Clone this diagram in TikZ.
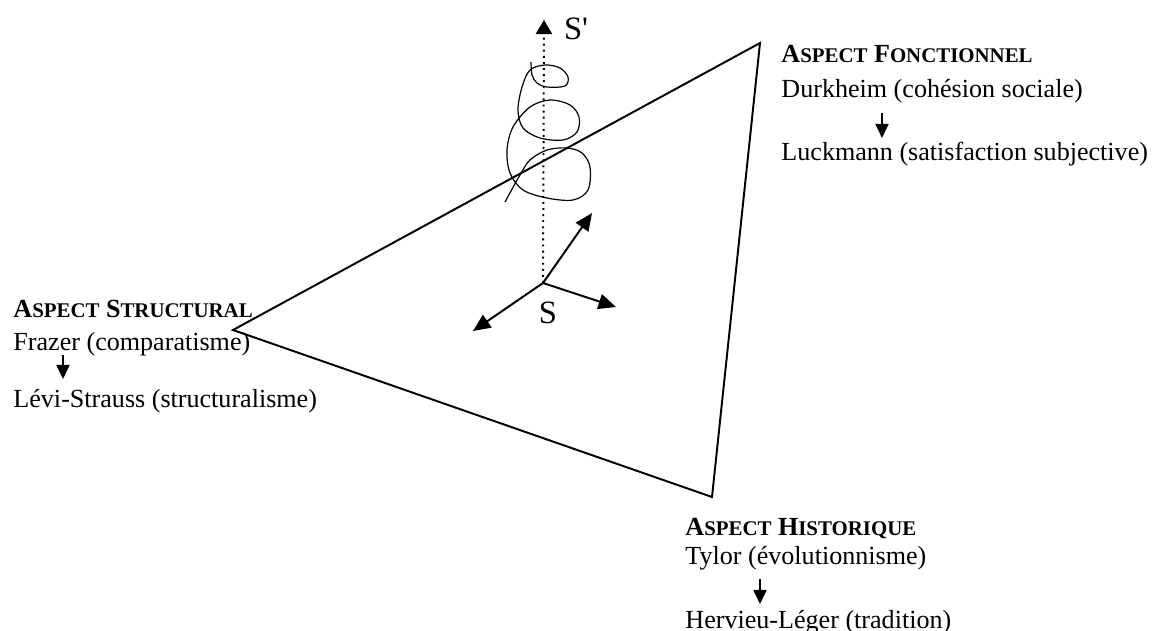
\documentclass[tikz,border=0pt]{standalone}
\usepackage{fontspec}
\setmainfont{Liberation Serif}
\usetikzlibrary{arrows.meta}
\newcommand\petitcap[1]{{\fontsize{9.6pt}{10pt}\selectfont #1}}
\tikzset{
  txt/.style={anchor=base west, inner sep=0pt, font=\fontsize{12pt}{14pt}\selectfont},
  axlabel/.style={inner sep=0pt, font=\fontsize{15pt}{18pt}\selectfont},
  bord/.style={line width=0.9pt, line join=miter},
  axe/.style={line width=0.9pt, -{Triangle[length=8pt, width=7pt]}},
  axepointille/.style={line width=0.9pt, dash pattern=on 0.9pt off 1.9pt, -{Triangle[length=6.5pt, width=7.5pt]}},
  fleche/.style={line width=0.9pt, -{Triangle[length=6.5pt, width=6pt]}},
  spirale/.style={line width=0.55pt}
}

\begin{document}
\begin{tikzpicture}[x=0.46pt, y=-0.46pt]
  \useasboundingbox (0,0) rectangle (1163,631);

  % triangle
  \coordinate (fonc) at (760,43);
  \coordinate (struc) at (233,330);
  \coordinate (hist) at (712,497);
  \draw[bord] (fonc) -- (struc) -- (hist) -- cycle;

  % spirale
  \draw[spirale] plot[smooth, tension=0.55] coordinates {
    (531,62) (532,75) (537,83) (547,87) (565,86) (568,77) (560,68) (545,65)
    (530,70) (522,87) (518,110) (523,128) (540,138) (563,140) (577,132)
    (579,117) (570,105) (550,100) (530,107) (513,127) (507,150) (510,173)
    (523,190) (547,198) (573,200) (588,190) (590,167) (582,153) (567,148)
    (547,150) (530,160) (520,175) (505,202)};

  % axes
  \coordinate (O) at (543,283);
  \coordinate (haut) at (544,20);
  \coordinate (ax1) at (592,213);
  \coordinate (ax2) at (616,307);
  \coordinate (ax3) at (473,331);
  \draw[axepointille] (O) -- (haut);
  \draw[axe] (O) -- (ax1);
  \draw[axe] (O) -- (ax2);
  \draw[axe] (O) -- (ax3);
  \node[axlabel] (S) at (548,313) {S};
  \node[axlabel] (Sprime) at (576,29) {S\textquotesingle};

  % aspect fonctionnel
  \node[txt] (fonct) at (781,62) {\textbf{A\petitcap{SPECT} F\petitcap{ONCTIONNEL}}};
  \node[txt] (durk) at (781,97) {Durkheim (cohésion sociale)};
  \node[txt] (luck) at (781,160) {Luckmann (satisfaction subjective)};
  \coordinate (f1a) at (882,113);
  \coordinate (f1b) at (882,138);
  \draw[fleche] (f1a) -- (f1b);

  % aspect structural
  \node[txt] (struct) at (13,317) {\textbf{A\petitcap{SPECT} S\petitcap{TRUCTURAL}}};
  \node[txt] (fraz) at (13,350) {Frazer (comparatisme)};
  \node[txt] (levi) at (13,407) {Lévi-Strauss (structuralisme)};
  \coordinate (f2a) at (63,355);
  \coordinate (f2b) at (63,379);
  \draw[fleche] (f2a) -- (f2b);

  % aspect historique
  \node[txt] (histo) at (685,535) {\textbf{A\petitcap{SPECT} H\petitcap{ISTORIQUE}}};
  \node[txt] (tyl) at (685,564) {Tylor (évolutionnisme)};
  \node[txt] (herv) at (685,628) {Hervieu-Léger (tradition)};
  \coordinate (f3a) at (760,579);
  \coordinate (f3b) at (760,604);
  \draw[fleche] (f3a) -- (f3b);
\end{tikzpicture}
\end{document}
